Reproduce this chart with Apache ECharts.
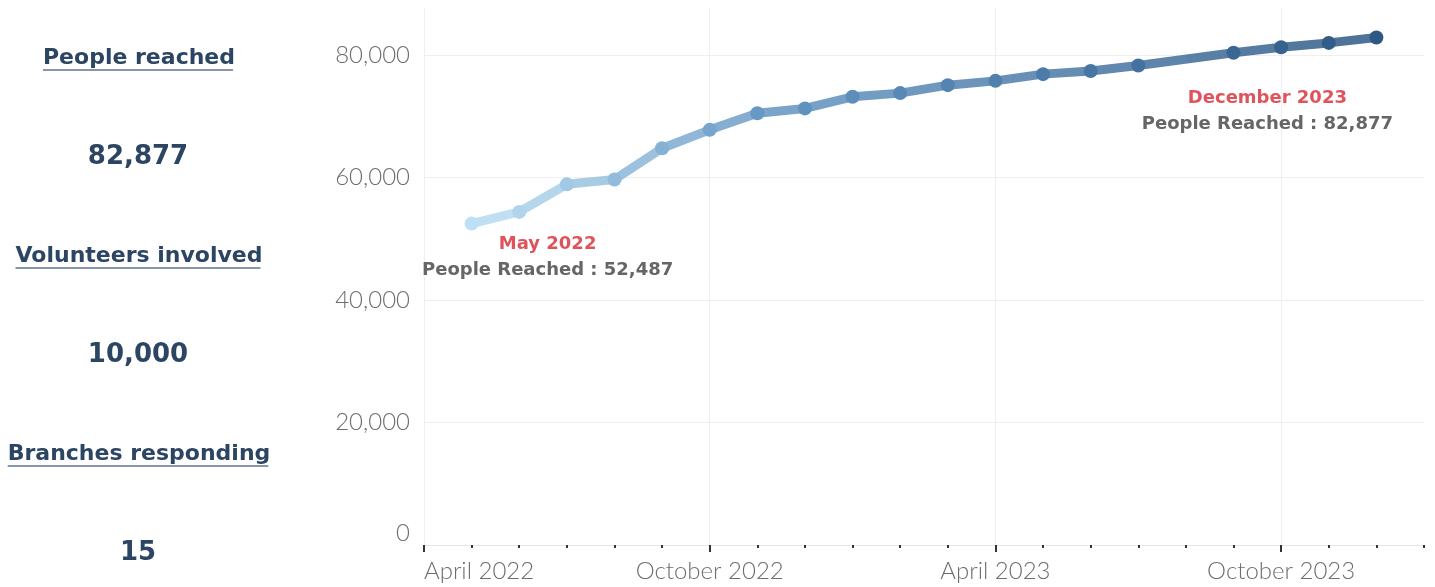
<!DOCTYPE html>
<html>
<head>
<meta charset="utf-8">
<script src="https://cdn.jsdelivr.net/npm/echarts@6/dist/echarts.min.js"></script>
<style>
  html, body { margin: 0; padding: 0; background: #fff; }
  #chart { width: 1435px; height: 587px; }
</style>
</head>
<body>
<div id="chart"></div>
<script>
// months on the x axis (Apr 2022 .. Jan 2024), one category per month
const months = [
  'April 2022', 'May 2022', 'June 2022', 'July 2022', 'August 2022', 'September 2022',
  'October 2022', 'November 2022', 'December 2022', 'January 2023', 'February 2023', 'March 2023',
  'April 2023', 'May 2023', 'June 2023', 'July 2023', 'August 2023', 'September 2023',
  'October 2023', 'November 2023', 'December 2023', 'January 2024'
];
// cumulative people reached (no report for Aug 2023)
const peopleReached = [
  null, 52487, 54400, 58900, 59700, 64800,
  67800, 70500, 71300, 73200, 73800, 75100,
  75800, 76900, 77400, 78300, null, 80400,
  81300, 82000, 82877, null
];
const kpiTitles = ['People reached', 'Volunteers involved', 'Branches responding'];
const kpiValues = [82877, 10000, 15];
const yTicks = [0, 20000, 40000, 60000, 80000];

const navy = '#2b4562';
const fmt = v => v.toLocaleString('en-US');

const chart = echarts.init(document.getElementById('chart'));

// measure title widths for the underline
const ctx = document.createElement('canvas').getContext('2d');
ctx.font = 'bold 22px "DejaVu Sans"';

const graphics = [];
kpiTitles.forEach((t, i) => {
  const cy = 58 + i * 198;
  const w = ctx.measureText(t).width;
  graphics.push({
    type: 'text', x: 139, y: cy,
    style: { text: t, fill: navy, font: 'bold 22px "DejaVu Sans"', textAlign: 'center', textVerticalAlign: 'middle' }
  });
  graphics.push({
    type: 'line', shape: { x1: 139 - w / 2, y1: cy + 12, x2: 139 + w / 2 - 2, y2: cy + 12 },
    style: { stroke: '#8797ab', lineWidth: 2 }
  });
  graphics.push({
    type: 'text', x: 138, y: cy + 99,
    style: { text: fmt(kpiValues[i]), fill: navy, font: 'bold 26px "DejaVu Sans"', textAlign: 'center', textVerticalAlign: 'middle' }
  });
});

// first and last reported months get a callout
const firstIdx = peopleReached.findIndex(v => v != null);
let lastIdx = peopleReached.length - 1;
while (peopleReached[lastIdx] == null) lastIdx--;

const labelRich = {
  m: { color: '#e0535b', fontSize: 18, fontWeight: 'bold', fontFamily: 'DejaVu Sans', lineHeight: 26 },
  p: { color: '#666666', fontSize: 18, fontWeight: 'bold', fontFamily: 'DejaVu Sans', lineHeight: 26 }
};
const seriesData = peopleReached.map((v, i) => {
  if (i !== firstIdx && i !== lastIdx) return v;
  return {
    value: v,
    label: {
      show: true,
      position: 'inside',
      align: 'center',
      verticalAlign: 'middle',
      offset: i === firstIdx ? [76, 34] : [-109, 74],
      formatter: '{m|' + months[i] + '}\n{p|People Reached : ' + fmt(v) + '}',
      rich: labelRich
    }
  };
});

const sixMonthly = (i) => i % 6 === 0;
const axisFont = { color: '#6e6e6e', fontSize: 24, fontFamily: 'Lato', fontWeight: 300 };

const option = {
  animation: false,
  graphic: graphics,
  grid: { left: 424, right: 11, top: 8, bottom: 42 },
  visualMap: {
    type: 'continuous', show: false, dimension: 0, seriesIndex: 0,
    min: firstIdx, max: lastIdx,
    inRange: { color: ['#bde0f4', '#6395c2', '#4a78a6', '#2d5884'] }
  },
  xAxis: [{
    type: 'category',
    data: months,
    boundaryGap: false,
    axisLine: { lineStyle: { color: '#e6e6e6', width: 1 } },
    axisTick: { interval: sixMonthly, length: 7, lineStyle: { color: '#333', width: 2 } },
    axisLabel: Object.assign({ interval: sixMonthly, alignMinLabel: 'left', margin: 14 }, axisFont),
    splitLine: { show: true, interval: sixMonthly, lineStyle: { color: '#efefef' } }
  }, {
    type: 'category',
    data: months,
    boundaryGap: false,
    position: 'bottom',
    axisLine: { show: false },
    axisLabel: { show: false },
    axisTick: { interval: 0, length: 3, lineStyle: { color: '#333', width: 2 } },
    splitLine: { show: false }
  }],
  yAxis: {
    type: 'value',
    min: yTicks[0],
    max: 87700,
    interval: yTicks[1] - yTicks[0],
    axisLine: { show: false },
    axisTick: { show: false },
    axisLabel: Object.assign({
      margin: 14, showMaxLabel: false, verticalAlignMinLabel: 'bottom',
      formatter: v => (yTicks.indexOf(v) >= 0 ? fmt(v) : '')
    }, axisFont),
    splitLine: { showMaxLine: false, lineStyle: { color: '#efefef' } }
  },
  series: [{
    type: 'line',
    data: seriesData,
    connectNulls: true,
    symbol: 'circle',
    symbolSize: 14,
    lineStyle: { width: 9, opacity: 0.85 },
    label: { show: false },
    emphasis: { disabled: true },
    z: 5
  }]
};
chart.setOption(option);
</script>
</body>
</html>
